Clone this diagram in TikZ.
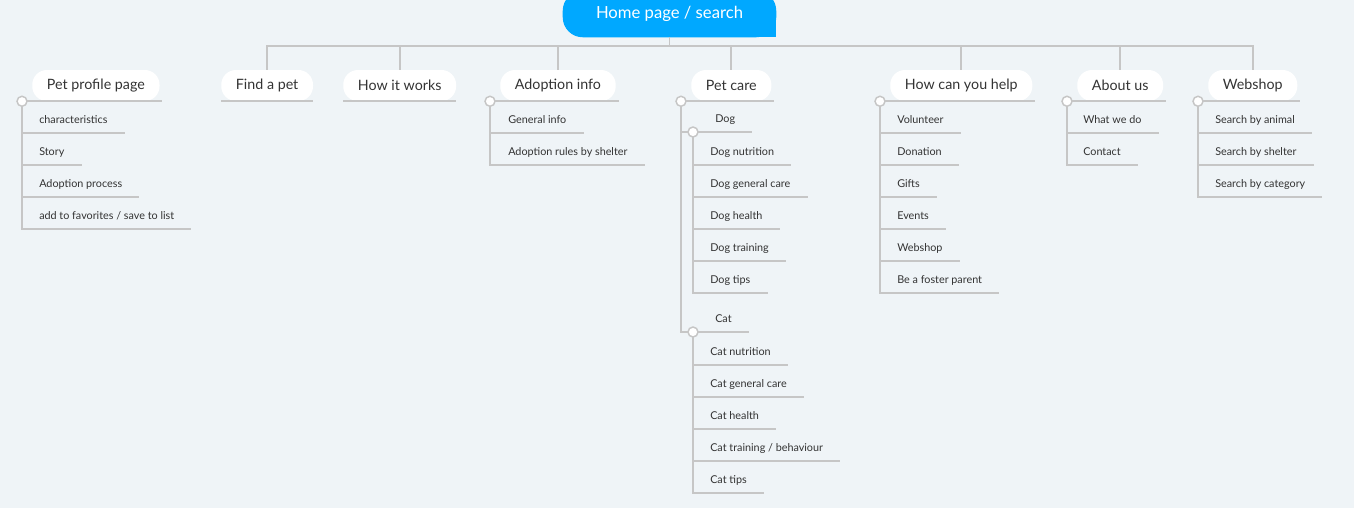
\documentclass[tikz,border=0pt]{standalone}
\usepackage{fontspec}
\setmainfont{Lato}
\usetikzlibrary{backgrounds}
\definecolor{paper}{HTML}{EFF4F7}
\definecolor{rootblue}{HTML}{00A8FF}
\definecolor{wire}{HTML}{C6C6C6}
\definecolor{ink}{HTML}{333333}
\tikzset{
  branch/.style={draw=wire, line width=1.3pt},
  topic/.style={anchor=west, fill=white, rounded corners=11pt, minimum height=23.25pt,
    inner xsep=11pt, text=ink, font=\fontsize{10.7}{13}\selectfont},
  leaf/.style={anchor=south west, inner xsep=12.75pt, inner ysep=0pt, text height=6pt,
    text depth=7.3pt, text=ink, font=\fontsize{8.1}{10}\selectfont},
  knob/.style={circle, draw=wire, fill=white, line width=1.1pt, inner sep=0pt, minimum size=7.5pt},
  root/.style={text=white, minimum width=159.75pt, minimum height=34.5pt,
    font=\fontsize{12.5}{14}\selectfont},
}
\begin{document}
\begin{tikzpicture}[x=0.75pt, y=-0.75pt]
    \useasboundingbox (0,0) rectangle (1354,508);
    \clip (0,0) rectangle (1354,508);

    \node[root] (root) at (669.5,14) {Home page / search};
    \begin{pgfonlayer}{background}
      \fill[paper] (0,0) rectangle (1354,508);
      \fill[rootblue, rounded corners=15pt] (root.north west) rectangle (root.south east);
      \fill[rootblue] ([xshift=-20pt, yshift=20pt]root.south east) rectangle (root.south east);
    \end{pgfonlayer}

    % main topics
    \node[topic] (pp) at (32,85.5) {Pet profile page};
    \node[topic] (find) at (221,85.5) {Find a pet};
    \node[topic] (how) at (343,85.5) {How it works};
    \node[topic] (adopt) at (500,85.5) {Adoption info};
    \node[topic] (care) at (691,85.5) {Pet care};
    \node[topic] (help) at (890,85.5) {How can you help};
    \node[topic] (about) at (1077,85.5) {About us};
    \node[topic] (shop) at (1208,85.5) {Webshop};

    \coordinate (hub) at (669.5,46);
    \draw[branch] (root.south) -- (hub);
    \foreach \t in {find,how,adopt,care,help,about,shop}
      \draw[branch] (hub) -| (\t.north);

    \draw[branch] (find.south west) -- (find.south east);
    \draw[branch] (how.south west) -- (how.south east);

    \foreach \t in {pp,adopt,care,help,about,shop} {
      \coordinate (\t k) at ([xshift=-7.5pt]\t.south west);
      \draw[branch] (\t k) -- ([xshift=2pt]\t.south east);
    }

    % Pet profile page
    \node[leaf] (pp1) at (22,133) {characteristics};
    \node[leaf] (pp2) at (22,165) {Story};
    \node[leaf] (pp3) at (22,197) {Adoption process};
    \node[leaf] (pp4) at (22,229) {add to favorites / save to list};
    \foreach \i in {1,...,4}
      \draw[branch] (ppk) |- (pp\i.south east);

    % Adoption info
    \node[leaf] (adopt1) at (491,133) {General info};
    \node[leaf] (adopt2) at (491,165) {Adoption rules by shelter};
    \foreach \i in {1,2}
      \draw[branch] (adoptk) |- (adopt\i.south east);

    % Pet care
    \coordinate (dogk) at (693,132);
    \coordinate (catk) at (693,332);
    \node[leaf] (dog) at (698,132) {Dog};
    \node[leaf] (cat) at (698,332) {Cat};
    \draw[branch] (carek) |- (dogk);
    \draw[branch] (carek) |- (catk);
    \draw[branch] (dogk) -- (dog.south east);
    \draw[branch] (catk) -- (cat.south east);

    \node[leaf] (dog1) at (693,165) {Dog nutrition};
    \node[leaf] (dog2) at (693,197) {Dog general care};
    \node[leaf] (dog3) at (693,229) {Dog health};
    \node[leaf] (dog4) at (693,261) {Dog training};
    \node[leaf] (dog5) at (693,293) {Dog tips};
    \foreach \i in {1,...,5}
      \draw[branch] (dogk) |- (dog\i.south east);

    \node[leaf] (cat1) at (693,365) {Cat nutrition};
    \node[leaf] (cat2) at (693,397) {Cat general care};
    \node[leaf] (cat3) at (693,429) {Cat health};
    \node[leaf] (cat4) at (693,461) {Cat training / behaviour};
    \node[leaf] (cat5) at (693,493) {Cat tips};
    \foreach \i in {1,...,5}
      \draw[branch] (catk) |- (cat\i.south east);

    % How can you help
    \node[leaf] (help1) at (880,133) {Volunteer};
    \node[leaf] (help2) at (880,165) {Donation};
    \node[leaf] (help3) at (880,197) {Gifts};
    \node[leaf] (help4) at (880,229) {Events};
    \node[leaf] (help5) at (880,261) {Webshop};
    \node[leaf] (help6) at (880,293) {Be a foster parent};
    \foreach \i in {1,...,6}
      \draw[branch] (helpk) |- (help\i.south east);

    % About us
    \node[leaf] (about1) at (1066,133) {What we do};
    \node[leaf] (about2) at (1066,165) {Contact};
    \foreach \i in {1,2}
      \draw[branch] (aboutk) |- (about\i.south east);

    % Webshop
    \node[leaf] (shop1) at (1198,133) {Search by animal};
    \node[leaf] (shop2) at (1198,165) {Search by shelter};
    \node[leaf] (shop3) at (1198,197) {Search by category};
    \foreach \i in {1,...,3}
      \draw[branch] (shopk) |- (shop\i.south east);

    \foreach \k in {ppk,adoptk,carek,dogk,catk,helpk,aboutk,shopk}
      \node[knob] at (\k) {};
  \end{tikzpicture}
\end{document}
